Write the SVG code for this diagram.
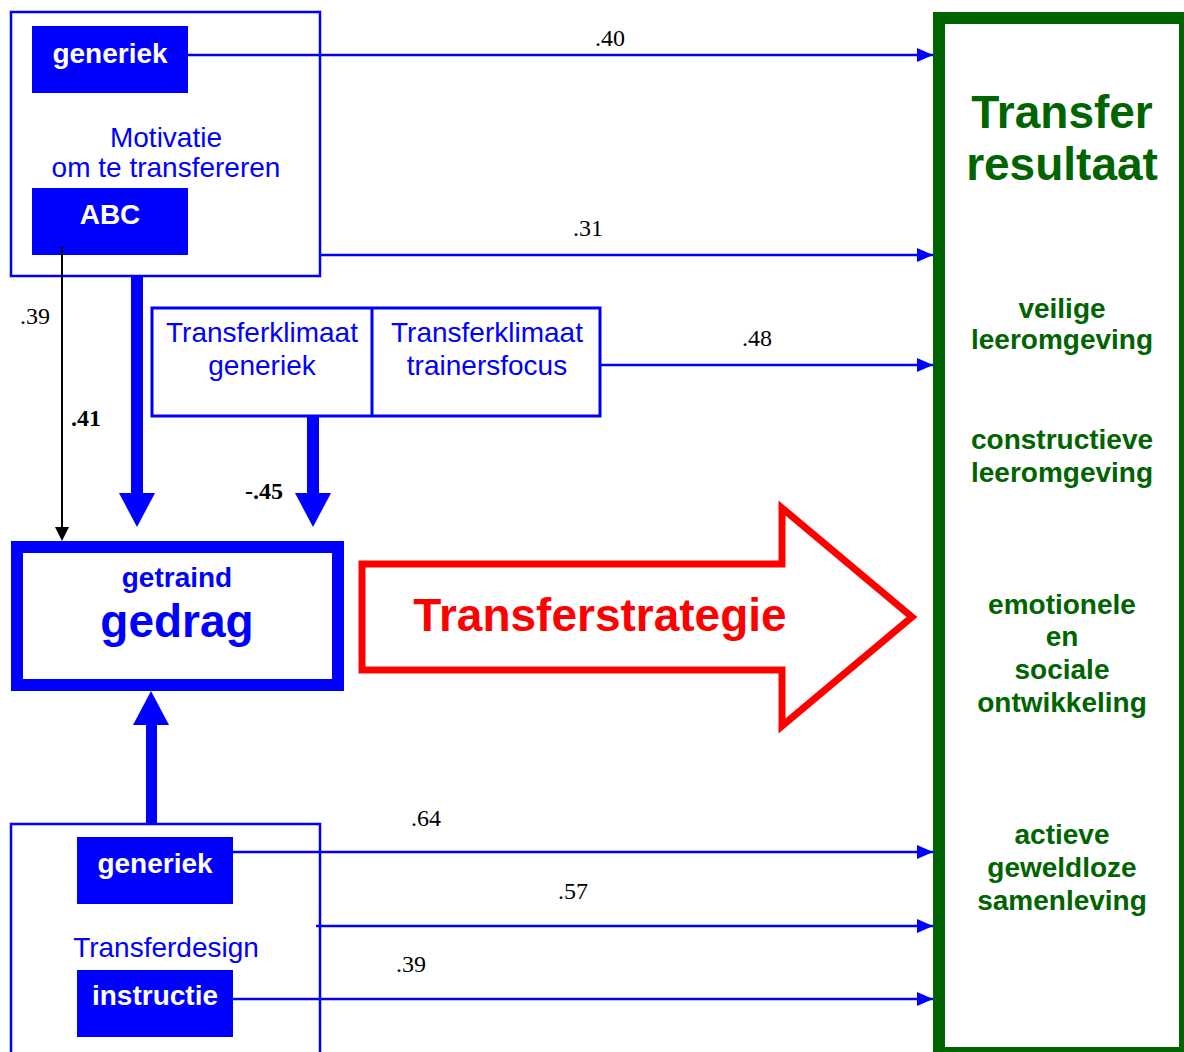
<svg xmlns="http://www.w3.org/2000/svg" width="1184" height="1052" viewBox="0 0 1184 1052">
  <defs>
    <style>
      .frame { fill: none; stroke: #0000ff; stroke-width: 2.5; }
      .tag { fill: #0000ff; }
      .tagtxt { font-family: "Liberation Sans", Arial, sans-serif; font-weight: bold; font-size: 28px; fill: #ffffff; text-anchor: middle; }
      .lbl { font-family: "Liberation Sans", Arial, sans-serif; font-size: 28px; fill: #0000ff; text-anchor: middle; }
      .num { font-family: "Liberation Serif", "Times New Roman", serif; font-size: 24px; fill: #000000; text-anchor: middle; }
      .numb { font-family: "Liberation Serif", "Times New Roman", serif; font-size: 24px; font-weight: bold; fill: #000000; text-anchor: middle; }
      .res { font-family: "Liberation Sans", Arial, sans-serif; font-weight: bold; font-size: 28px; fill: #006400; text-anchor: middle; }
      .link { stroke: #0000ff; stroke-width: 2.5; fill: none; marker-end: url(#head); }
    </style>
    <marker id="head" viewBox="0 0 16 14" refX="16" refY="7" markerWidth="16" markerHeight="14" markerUnits="userSpaceOnUse" orient="auto">
      <path d="M0,0 L16,7 L0,14 z" fill="#0000ff"/>
    </marker>
  </defs>

  <!-- Motivatie om te transfereren -->
  <g id="motivatie">
    <rect class="frame" x="11" y="12" width="309" height="264"/>
    <rect class="tag" x="32" y="26" width="156" height="67"/>
    <text class="tagtxt" x="110" y="63">generiek</text>
    <text class="lbl" x="166" y="147">Motivatie</text>
    <text class="lbl" x="166" y="177">om te transfereren</text>
    <rect class="tag" x="32" y="188" width="156" height="67"/>
    <text class="tagtxt" x="110" y="224">ABC</text>
  </g>

  <!-- Transferklimaat -->
  <g id="transferklimaat">
    <rect x="152" y="308" width="448" height="108" fill="none" stroke="#0000ff" stroke-width="3"/>
    <line x1="372" y1="308" x2="372" y2="416" stroke="#0000ff" stroke-width="3"/>
    <text class="lbl" x="262" y="342">Transferklimaat</text>
    <text class="lbl" x="262" y="375">generiek</text>
    <text class="lbl" x="487" y="342">Transferklimaat</text>
    <text class="lbl" x="487" y="375">trainersfocus</text>
  </g>

  <!-- getraind gedrag -->
  <g id="gedrag">
    <rect x="17" y="547" width="321" height="138" fill="none" stroke="#0000ff" stroke-width="12"/>
    <text x="177" y="587" font-family="Liberation Sans, Arial, sans-serif" font-weight="bold" font-size="28" fill="#0000ff" text-anchor="middle">getraind</text>
    <text x="177" y="637" font-family="Liberation Sans, Arial, sans-serif" font-weight="bold" font-size="46" fill="#0000ff" text-anchor="middle">gedrag</text>
  </g>

  <!-- Transferdesign -->
  <g id="transferdesign">
    <rect class="frame" x="11" y="824" width="309" height="260"/>
    <rect class="tag" x="77" y="837" width="156" height="67"/>
    <text class="tagtxt" x="155" y="873">generiek</text>
    <text class="lbl" x="166" y="957">Transferdesign</text>
    <rect class="tag" x="77" y="970" width="156" height="67"/>
    <text class="tagtxt" x="155" y="1005">instructie</text>
  </g>

  <!-- Transferstrategie -->
  <g id="transferstrategie">
    <polygon points="362,564 782,564 782,508 912,617 782,726 782,670 362,670" fill="none" stroke="#ff0000" stroke-width="7"/>
    <text x="600" y="631" font-family="Liberation Sans, Arial, sans-serif" font-weight="bold" font-size="46" fill="#ff0000" text-anchor="middle">Transferstrategie</text>
  </g>

  <!-- Transfer resultaat -->
  <g id="resultaat">
    <rect x="939" y="18" width="246" height="1035" fill="none" stroke="#006400" stroke-width="12"/>
    <text x="1062" y="128" font-family="Liberation Sans, Arial, sans-serif" font-weight="bold" font-size="46" fill="#006400" text-anchor="middle">Transfer</text>
    <text x="1062" y="180" font-family="Liberation Sans, Arial, sans-serif" font-weight="bold" font-size="46" fill="#006400" text-anchor="middle">resultaat</text>
    <text class="res" x="1062" y="318">veilige</text>
    <text class="res" x="1062" y="349">leeromgeving</text>
    <text class="res" x="1062" y="449">constructieve</text>
    <text class="res" x="1062" y="482">leeromgeving</text>
    <text class="res" x="1062" y="614">emotionele</text>
    <text class="res" x="1062" y="646">en</text>
    <text class="res" x="1062" y="679">sociale</text>
    <text class="res" x="1062" y="712">ontwikkeling</text>
    <text class="res" x="1062" y="844">actieve</text>
    <text class="res" x="1062" y="877">geweldloze</text>
    <text class="res" x="1062" y="910">samenleving</text>
  </g>

  <!-- Paths and coefficients -->
  <g id="connectors">
    <line class="link" x1="188" y1="55" x2="933" y2="55"/>
    <line class="link" x1="320" y1="255" x2="933" y2="255"/>
    <line class="link" x1="600" y1="365" x2="933" y2="365"/>
    <line class="link" x1="233" y1="852" x2="933" y2="852"/>
    <line class="link" x1="316" y1="926" x2="933" y2="926"/>
    <line class="link" x1="233" y1="999" x2="933" y2="999"/>

    <!-- thick arrows into getraind gedrag -->
    <rect x="131" y="276" width="12" height="218" fill="#0000ff"/>
    <polygon points="119,493 155,493 137,527" fill="#0000ff"/>
    <rect x="307" y="416" width="12" height="78" fill="#0000ff"/>
    <polygon points="295,493 331,493 313,527" fill="#0000ff"/>
    <rect x="146" y="723" width="11" height="101" fill="#0000ff"/>
    <polygon points="133,725 169,725 151,691" fill="#0000ff"/>

    <!-- ABC direct path -->
    <line x1="62" y1="247" x2="62" y2="528" stroke="#000000" stroke-width="2"/>
    <polygon points="55,527 69,527 62,541" fill="#000000"/>

    <text class="num" x="610" y="46">.40</text>
    <text class="num" x="588" y="236">.31</text>
    <text class="num" x="757" y="346">.48</text>
    <text class="num" x="35" y="324">.39</text>
    <text class="numb" x="86" y="426">.41</text>
    <text class="numb" x="264" y="499">-.45</text>
    <text class="num" x="426" y="826">.64</text>
    <text class="num" x="573" y="899">.57</text>
    <text class="num" x="411" y="972">.39</text>
  </g>
</svg>
